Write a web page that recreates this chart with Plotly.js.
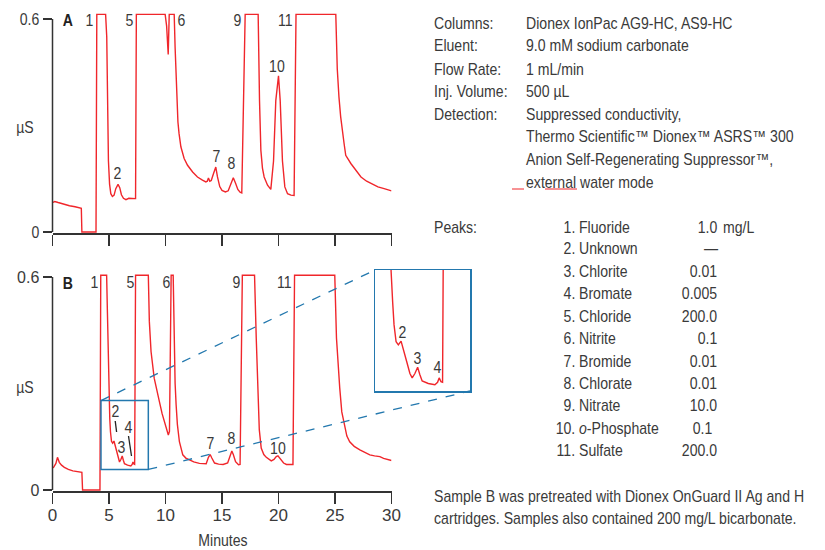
<!DOCTYPE html>
<html>
<head>
<meta charset="utf-8">
<script src="https://cdn.plot.ly/plotly-3.0.1.min.js"></script>
<style>html,body{margin:0;padding:0;background:#fff;}#chart{width:825px;height:550px;}</style>
</head>
<body>
<div id="chart"></div>
<script>
// ---------------- DATA ----------------
const timeA = [0, 0.2, 0.5, 1.0, 1.5, 2.0, 2.55, 2.6, 3.85, 3.92, 4.7, 4.8, 4.87, 4.95, 5.05, 5.16, 5.3, 5.45, 5.6, 5.8, 5.95, 6.1, 6.28, 6.5, 6.75, 6.95, 7.2, 7.35, 7.42,
  9.97, 10.1, 10.24, 10.33, 10.77, 10.85, 10.92, 11.0, 11.1, 11.2, 11.36, 11.65, 11.95, 12.4, 12.83, 13.27, 13.57, 13.7, 13.8, 13.92, 14.05, 14.25, 14.45, 14.6, 14.8, 15.0, 15.3, 15.55, 15.8, 16.0, 16.2, 16.4, 16.6, 16.75, 17.05,
  18.2, 18.32, 18.44, 18.58, 18.73, 19.03, 19.32, 19.56, 19.76, 20.0, 20.15, 20.35, 20.56, 20.8, 21.1, 21.38, 21.55,
  25.07, 25.2, 25.35, 25.5, 25.8, 25.95, 26.4, 26.8, 27.3, 27.8, 28.3, 28.8, 29.35, 30.0];
const signalA = [0.083, 0.086, 0.083, 0.078, 0.074, 0.071, 0.067, 0, 0, 0.613, 0.613, 0.55, 0.37, 0.2, 0.135, 0.108, 0.1, 0.104, 0.122, 0.134, 0.125, 0.105, 0.095, 0.091, 0.095, 0.095, 0.093, 0.094, 0.613,
  0.613, 0.58, 0.50, 0.613, 0.613, 0.52, 0.44, 0.37, 0.31, 0.277, 0.24, 0.207, 0.188, 0.169, 0.155, 0.146, 0.141, 0.143, 0.152, 0.143, 0.145, 0.165, 0.183, 0.155, 0.128, 0.117, 0.113, 0.116, 0.135, 0.153, 0.137, 0.12, 0.112, 0.11, 0.613,
  0.613, 0.37, 0.23, 0.18, 0.155, 0.132, 0.12, 0.2, 0.37, 0.44, 0.37, 0.2, 0.127, 0.108, 0.104, 0.103, 0.613,
  0.613, 0.46, 0.38, 0.325, 0.25, 0.216, 0.193, 0.177, 0.155, 0.143, 0.134, 0.127, 0.122, 0.116];

const timeB = [0, 0.1, 0.3, 0.44, 0.6, 0.8, 1.05, 1.4, 1.8, 2.2, 2.6, 2.66, 4.2, 4.27, 4.79, 4.86, 4.92, 5.0, 5.07, 5.13, 5.22, 5.32, 5.44, 5.54, 5.69, 5.83, 5.93, 6.05, 6.17, 6.27, 6.37, 6.64, 6.93, 7.05, 7.12, 7.2, 7.27, 7.35,
  8.48, 8.57, 8.72, 9.0, 9.25, 9.46, 9.7, 9.9, 10.1, 10.25, 10.35, 10.5, 10.68, 10.75, 10.85, 10.94, 11.05, 11.23, 11.4, 11.53, 11.8, 12.12, 12.5, 13.0, 13.4, 13.6, 13.8, 13.95, 14.1, 14.34, 14.7, 15.1, 15.5, 15.7, 15.87, 16.0, 16.2, 16.46, 16.6, 16.8,
  17.88, 18.03, 18.18, 18.3, 18.47, 18.7, 18.92, 19.15, 19.36, 19.6, 19.8, 19.95, 20.1, 20.25, 20.45, 20.7, 21.0, 21.28, 21.42,
  24.98, 25.13, 25.27, 25.42, 25.6, 25.86, 26.05, 26.3, 26.7, 27.2, 27.6, 28.08, 28.5, 28.97, 29.3, 29.56, 30.0];
const signalB = [0.062, 0.064, 0.075, 0.092, 0.078, 0.07, 0.064, 0.058, 0.054, 0.052, 0.05, 0, 0, 0.605, 0.605, 0.5, 0.38, 0.25, 0.2, 0.164, 0.137, 0.132, 0.138, 0.126, 0.105, 0.086, 0.079, 0.086, 0.096, 0.084, 0.074, 0.070, 0.068, 0.072, 0.079, 0.073, 0.072, 0.605,
  0.605, 0.475, 0.39, 0.315, 0.275, 0.249, 0.215, 0.193, 0.168, 0.155, 0.165, 0.605, 0.605, 0.42, 0.3, 0.24, 0.185, 0.136, 0.112, 0.099, 0.09, 0.085, 0.079, 0.075, 0.073, 0.074, 0.092, 0.1, 0.09, 0.076, 0.073, 0.072, 0.076, 0.095, 0.11, 0.1, 0.08, 0.071, 0.072, 0.605,
  0.605, 0.428, 0.24, 0.17, 0.118, 0.1, 0.092, 0.086, 0.082, 0.086, 0.094, 0.096, 0.09, 0.082, 0.076, 0.072, 0.071, 0.072, 0.605,
  0.605, 0.428, 0.34, 0.287, 0.22, 0.174, 0.152, 0.136, 0.123, 0.113, 0.106, 0.099, 0.096, 0.094, 0.089, 0.087, 0.083];

const xTicks = [0, 5, 10, 15, 20, 25, 30];
const yTicks = [0, 0.6];
const yTickText = ['0', '0.6'];
const insetRangeX = [4.29, 8.48];
const insetRangeY = [0.058, 0.252];

const condLabels = ['Columns:', 'Eluent:', 'Flow Rate:', 'Inj. Volume:', 'Detection:'];
const condValues = ['Dionex IonPac AG9-HC, AS9-HC', '9.0 mM sodium carbonate', '1 mL/min', '500 µL', 'Suppressed conductivity,',
  'Thermo Scientific™ Dionex™ ASRS™ 300', 'Anion Self-Regenerating Suppressor™,', 'external water mode'];
const peakNums = ['1.', '2.', '3.', '4.', '5.', '6.', '7.', '8.', '9.', '10.', '11.'];
const peakNames = ['Fluoride', 'Unknown', 'Chlorite', 'Bromate', 'Chloride', 'Nitrite', 'Bromide', 'Chlorate', 'Nitrate', '<i>o</i>-Phosphate', 'Sulfate'];
const peakConc = ['1.0', '—', '0.01', '0.005', '200.0', '0.1', '0.01', '0.01', '10.0', '0.1', '200.0'];
const concUnit = 'mg/L';
const footer = ['Sample B was pretreated with Dionex OnGuard II Ag and H', 'cartridges. Samples also contained 200 mg/L bicarbonate.'];

// ---------------- LAYOUT ----------------
const W = 825, H = 550;
const FONT = '"Liberation Sans", Arial, sans-serif';
const SQUEEZE = 0.88;
const TXT = '#3a3a3a';
const RED = '#f0262b';
const BLUE = '#2378ae';
const AX = '#333333';
const px = x => x / W;
const py = y => 1 - y / H;

const xDom = [px(52.5), px(391.5)];
const yRange = [-0.004, 0.625];
const upu = 213 / 0.6;
const domA = [py(232 - yRange[0] * upu), py(232 - yRange[1] * upu)];
const domB = [py(490 - yRange[0] * upu), py(490 - yRange[1] * upu)];
const insetBox = {x0: 375, x1: 470, y0: 270, y1: 391};

const bx = t => 52.5 + (t / 30) * 339;
const by = v => 490 - v * upu;

const traceStyle = {mode: 'lines', line: {color: RED, width: 1.4}, hoverinfo: 'skip', showlegend: false};
const data = [
  Object.assign({x: timeA, y: signalA, xaxis: 'x', yaxis: 'y'}, traceStyle),
  Object.assign({x: timeB, y: signalB, xaxis: 'x2', yaxis: 'y2'}, traceStyle),
  Object.assign({x: timeB, y: signalB, xaxis: 'x3', yaxis: 'y3'}, traceStyle)
];

function xAxis(domain, anchor, labels) {
  return {domain: domain, anchor: anchor, range: [0, 30], tickvals: xTicks, ticktext: xTicks.map(String),
    showticklabels: labels, ticks: 'outside', ticklen: 11, tickwidth: 1.5, tickcolor: AX, ticklabelstandoff: -3,
    showline: true, linecolor: AX, linewidth: 1.5, showgrid: false, zeroline: false,
    tickfont: {family: FONT, size: 17, color: TXT}, fixedrange: true};
}
function yAxis(domain, anchor) {
  return {domain: domain, anchor: anchor, range: yRange, tickvals: yTicks, ticktext: yTickText,
    ticks: 'outside', ticklen: 9, tickwidth: 1.5, tickcolor: AX, showline: false, showgrid: false, zeroline: false,
    tickfont: {family: FONT, size: 16, color: TXT}, fixedrange: true};
}

const annotations = [];
function label(text, x, y, opts) {
  opts = opts || {};
  annotations.push({text: text, xref: 'paper', yref: 'paper', x: px(x), y: py(y), showarrow: false,
    xanchor: opts.xa || 'center', yanchor: 'middle', borderpad: 0,
    font: {family: FONT, size: opts.size || 16, color: opts.color || TXT}});
}
label('<b>A</b>', 67.5, 20, {size: 16, color: '#222'});
label('<b>B</b>', 67.5, 283, {size: 16, color: '#222'});
label('µS', 25, 128, {size: 16});
label('µS', 25, 387, {size: 16});
label('Minutes', 223, 540, {size: 16});
[['1', 89, 20], ['5', 129, 20], ['6', 181, 20], ['9', 237, 20], ['11', 285, 20], ['10', 277, 66], ['2', 117, 173], ['7', 216, 157], ['8', 232, 164]]
  .forEach(p => label(p[0], p[1], p[2], {size: 16}));
[['1', 94, 282], ['5', 130, 282], ['6', 166, 282], ['9', 236, 282], ['11', 284, 282], ['2', 116, 411], ['3', 121.5, 447], ['4', 128.5, 427], ['7', 211, 443], ['8', 231.5, 438], ['10', 278, 448]]
  .forEach(p => label(p[0], p[1], p[2], {size: 16}));
[['2', 402.5, 332], ['3', 417.5, 358], ['4', 437.5, 367]].forEach(p => label(p[0], p[1], p[2], {size: 16}));

const condY = [23, 46, 69, 92, 114, 136, 159, 182];
condLabels.forEach((t, i) => label(t, 433, condY[i], {xa: 'left'}));
condValues.forEach((t, i) => label(t, 525, condY[i], {xa: 'left'}));
label('Peaks:', 433, 227, {xa: 'left'});
const peakY = [227, 249, 271.5, 293.5, 316, 338.5, 361, 383.5, 405.5, 428, 450];
const concX = [718, 719, 718, 718, 718, 718, 718, 718, 718, 713, 718];
peakNums.forEach((t, i) => label(t, 576, peakY[i], {xa: 'right'}));
peakNames.forEach((t, i) => label(t, 578, peakY[i], {xa: 'left'}));
peakConc.forEach((t, i) => label(t, concX[i], peakY[i], {xa: 'right'}));
label(concUnit, 722, peakY[0], {xa: 'left'});
footer.forEach((t, i) => label(t, 433, 496 + i * 22, {xa: 'left'}));

const shapes = [
  {type: 'line', xref: 'x domain', yref: 'y', x0: 0, x1: 0, y0: 0, y1: 0.6, line: {color: AX, width: 1.5}},
  {type: 'line', xref: 'x2 domain', yref: 'y2', x0: 0, x1: 0, y0: 0, y1: 0.6, line: {color: AX, width: 1.5}},
  {type: 'rect', xref: 'x2', yref: 'y2', x0: insetRangeX[0], x1: insetRangeX[1], y0: insetRangeY[0], y1: insetRangeY[1], line: {color: BLUE, width: 1.5}},
  {type: 'line', xref: 'paper', yref: 'paper', x0: px(bx(insetRangeX[0])), y0: py(by(insetRangeY[1])), x1: px(insetBox.x0), y1: py(insetBox.y0), line: {color: BLUE, width: 1.3, dash: 'dash'}},
  {type: 'line', xref: 'paper', yref: 'paper', x0: px(bx(insetRangeX[1])), y0: py(by(insetRangeY[0])), x1: px(insetBox.x1), y1: py(insetBox.y1), line: {color: BLUE, width: 1.3, dash: 'dash'}},
  {type: 'line', xref: 'paper', yref: 'paper', x0: px(115.2), y0: py(421), x1: px(116.6), y1: py(432), line: {color: '#222', width: 1.3}},
  {type: 'line', xref: 'paper', yref: 'paper', x0: px(128.5), y0: py(436), x1: px(131.5), y1: py(456), line: {color: '#222', width: 1.3}},
  {type: 'line', xref: 'paper', yref: 'paper', x0: px(512), y0: py(189), x1: px(524), y1: py(189), line: {color: RED, width: 1}},
  {type: 'line', xref: 'paper', yref: 'paper', x0: px(545), y0: py(189), x1: px(577), y1: py(189), line: {color: RED, width: 1}}
];

const layout = {
  width: W, height: H, margin: {l: 0, r: 0, t: 0, b: 0},
  paper_bgcolor: '#ffffff', plot_bgcolor: 'rgba(0,0,0,0)', showlegend: false,
  font: {family: FONT, color: TXT},
  xaxis: xAxis(xDom, 'y', false),
  yaxis: yAxis(domA, 'x'),
  xaxis2: xAxis(xDom, 'y2', true),
  yaxis2: yAxis(domB, 'x2'),
  xaxis3: {domain: [px(insetBox.x0), px(insetBox.x1)], anchor: 'y3', range: insetRangeX, showticklabels: false, ticks: '',
    showline: true, mirror: true, linecolor: BLUE, linewidth: 1.5, showgrid: false, zeroline: false, fixedrange: true},
  yaxis3: {domain: [py(insetBox.y1), py(insetBox.y0)], anchor: 'x3', range: insetRangeY, showticklabels: false, ticks: '',
    showline: true, mirror: true, linecolor: BLUE, linewidth: 1.5, showgrid: false, zeroline: false, fixedrange: true},
  annotations: annotations,
  shapes: shapes
};

// horizontally condense a text element about its left / centre / right edge (keeps it real text)
function condense(el, where) {
  const b = el.getBBox();
  const ox = where === 'left' ? b.x : where === 'right' ? b.x + b.width : b.x + b.width / 2;
  const t = el.getAttribute('transform') || '';
  el.setAttribute('transform', t + ' translate(' + ox + ',0) scale(' + SQUEEZE + ',1) translate(' + (-ox) + ',0)');
}

Plotly.newPlot('chart', data, layout, {staticPlot: true, displayModeBar: false}).then(function (gd) {
  gd.querySelectorAll('g.annotation').forEach(function (g) {
    const idx = +g.getAttribute('data-index');
    const txt = g.querySelector('text.annotation-text');
    if (txt && annotations[idx]) condense(txt, annotations[idx].xanchor);
  });
  gd.querySelectorAll('g.xtick text').forEach(el => condense(el, 'center'));
  gd.querySelectorAll('g.ytick text').forEach(el => condense(el, 'right'));
});
</script>
</body>
</html>
